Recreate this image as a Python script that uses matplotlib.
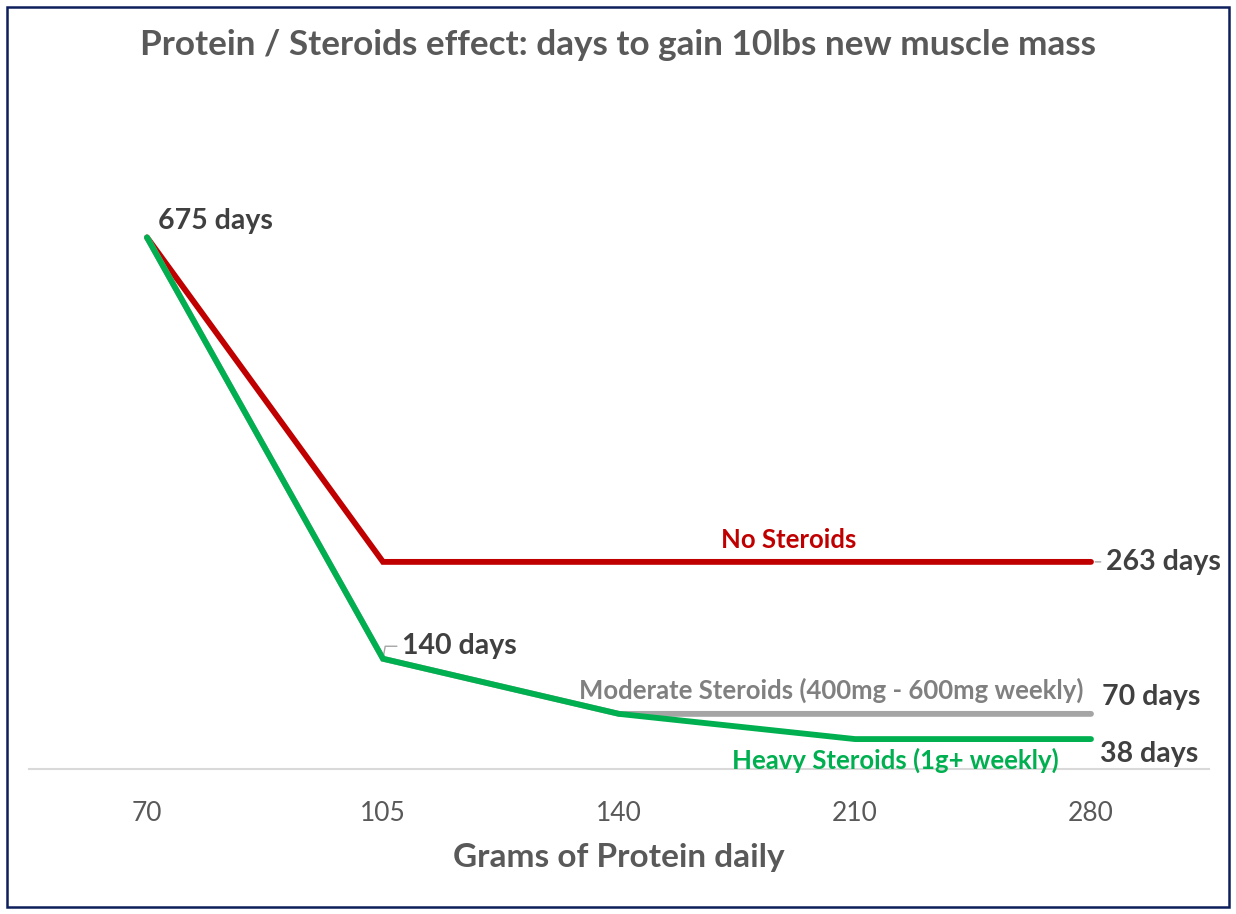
import matplotlib.pyplot as plt
from matplotlib.patches import Rectangle

# chart data
protein = ["70", "105", "140", "210", "280"]
no_steroids = [675, 263, 263, 263, 263]
moderate = [675, 140, 70, 70, 70]
heavy = [675, 140, 70, 38, 38]

plt.rcParams['font.family'] = ['Lato', 'DejaVu Sans']

fig = plt.figure(figsize=(12.36, 9.14), dpi=100)
W, H = 1236, 914
ax = fig.add_axes([29 / W, 145 / H, 1180 / W, 630 / H])

x = range(len(protein))
red, grey, green = "#C00000", "#A5A5A5", "#00B050"
ax.plot(x, no_steroids, color=red, lw=4.2, solid_capstyle='round', solid_joinstyle='miter', zorder=3)
ax.plot(x, moderate, color=grey, lw=4.2, solid_capstyle='round', solid_joinstyle='miter', zorder=4)
ax.plot(x, heavy, color=green, lw=4.2, solid_capstyle='round', solid_joinstyle='miter', zorder=5)

ax.set_xlim(-0.5, len(protein) - 0.5)
ax.set_ylim(0, 800)
ax.set_yticks([])
ax.set_xticks(list(x))
ax.set_xticklabels(protein, fontsize=19, color="#595959")
ax.tick_params(axis='x', length=0, pad=23)
for s in ['top', 'right', 'left']:
    ax.spines[s].set_visible(False)
ax.spines['bottom'].set_color("#D9D9D9")
ax.spines['bottom'].set_linewidth(1.5)
ax.set_xlabel("Grams of Protein daily", fontsize=24, fontweight='bold', color="#595959", labelpad=12)

# value labels
lab = dict(fontsize=20.5, fontweight='bold', color="#404040", va='center')
ax.annotate("675 days", (0, no_steroids[0]), xytext=(8, 12), textcoords='offset points', ha='left', **lab)
ax.annotate("263 days", (4, no_steroids[4]), xytext=(11, 0), textcoords='offset points', ha='left',
            arrowprops=dict(arrowstyle='-', color="#A5A5A5", lw=1, shrinkA=2, shrinkB=3), **lab)
ax.annotate("140 days", (1, heavy[1]), xytext=(14, 9), textcoords='offset points', ha='left',
            arrowprops=dict(arrowstyle='-', color="#A5A5A5", lw=1, shrinkA=2, shrinkB=3,
                            connectionstyle='angle,angleA=0,angleB=80'), **lab)
ax.annotate("70 days", (4, moderate[4]), xytext=(8, 12), textcoords='offset points', ha='left', **lab)
ax.annotate("38 days", (4, heavy[4]), xytext=(6.5, -11), textcoords='offset points', ha='left', **lab)

# series labels
ser = dict(textcoords='offset points', ha='center', va='center', fontsize=18.5, fontweight='bold')
ax.annotate("No Steroids", (2.72, no_steroids[3]), xytext=(0, 16), color=red, **ser)
ax.annotate("Moderate Steroids (400mg - 600mg weekly)", (3, moderate[3]), xytext=(-17, 17),
            color="#808080", **ser)
ax.annotate("Heavy Steroids (1g+ weekly)", (3.17, heavy[3]), xytext=(0, -15), color=green, **ser)

fig.text(0.5, 1 - 45 / H, "Protein / Steroids effect: days to gain 10lbs new muscle mass",
         ha='center', va='center', fontsize=25.3, fontweight='bold', color="#595959")

fig.patches.append(Rectangle((7 / W, 7 / H), 1222 / W, 900 / H, transform=fig.transFigure,
                             fill=False, edgecolor="#0D1F5C", lw=1.8))

fig.savefig("out.png", dpi=100)
